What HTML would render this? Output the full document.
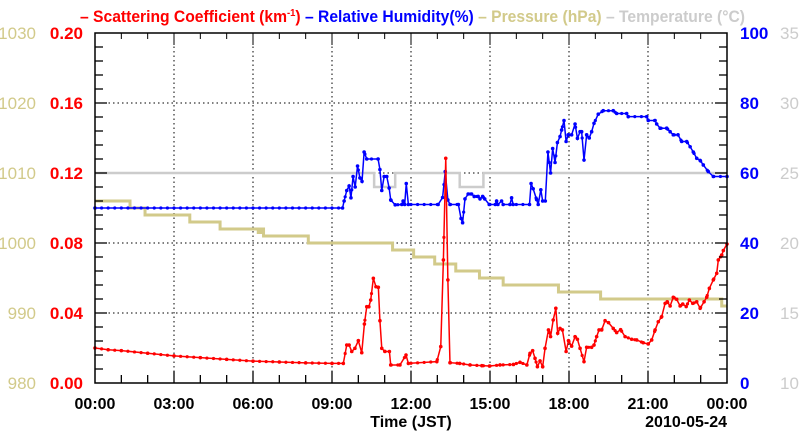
<!DOCTYPE html>
<html><head><meta charset="utf-8"><style>
html,body{margin:0;padding:0;background:#fff;}
svg{display:block;font-family:"Liberation Sans",sans-serif;}
</style></head><body>
<svg id="c" width="800" height="434" xmlns="http://www.w3.org/2000/svg">
<text x="80" y="22" font-size="16.5" font-weight="bold" textLength="665" lengthAdjust="spacingAndGlyphs"><tspan fill="#ff0000">– Scattering Coefficient (km</tspan><tspan fill="#ff0000" font-size="10" dy="-6">-1</tspan><tspan fill="#ff0000" dy="6">) </tspan><tspan fill="#0000ff">– Relative Humidity(%) </tspan><tspan fill="#d2ca8a">– Pressure (hPa) </tspan><tspan fill="#cccccc">– Temperature (°C)</tspan></text>
<g id="grid"></g><g id="series"></g><g id="axes"></g>
<text x="411" y="427" font-size="16" font-weight="bold" text-anchor="middle">Time (JST)</text>
<text x="727" y="427" font-size="16" font-weight="bold" text-anchor="end">2010-05-24</text>
</svg>
<script>
const hourTicks=["00:00","03:00","06:00","09:00","12:00","15:00","18:00","21:00","00:00"];
const scatTicks=["0.00","0.04","0.08","0.12","0.16","0.20"];
const presTicks=["980","990","1000","1010","1020","1030"];
const rhTicks=["0","20","40","60","80","100"];
const tempTicks=["10","15","20","25","30","35"];

const scatT=[0,0.5,1,2,3,4,5,6,7,8,9,9.43,9.56,9.65,9.75,9.87,10.0,10.13,10.23,10.32,10.4,10.47,10.57,10.67,10.76,10.82,10.89,11.01,11.18,11.23,11.58,11.81,11.9,12.98,13.13,13.23,13.32,13.4,13.48,13.85,14.24,14.69,14.98,15.38,15.89,16.14,16.4,16.52,16.62,16.71,16.8,16.9,17.0,17.09,17.22,17.3,17.4,17.5,17.57,17.66,17.75,17.89,17.98,18.1,18.23,18.32,18.42,18.57,18.67,18.86,18.95,19.05,19.14,19.24,19.37,19.5,19.68,19.81,19.96,20.13,20.38,20.57,20.82,21.01,21.14,21.27,21.39,21.52,21.65,21.73,21.84,21.96,22.09,22.22,22.32,22.45,22.57,22.7,22.85,22.98,23.13,23.23,23.33,23.48,23.61,23.67,23.8,23.86,24];
const scatV=[0.020,0.019,0.0185,0.017,0.0155,0.0145,0.0135,0.0125,0.012,0.0115,0.0112,0.0112,0.0217,0.0217,0.018,0.0198,0.0242,0.0173,0.0337,0.0436,0.0436,0.0474,0.0598,0.055,0.0547,0.0356,0.0198,0.018,0.018,0.0103,0.0103,0.016,0.0112,0.0122,0.0208,0.0703,0.1284,0.0589,0.0116,0.0112,0.0103,0.0099,0.0097,0.0103,0.0106,0.0118,0.0103,0.017,0.0185,0.0141,0.0093,0.0126,0.0093,0.0198,0.0303,0.0265,0.036,0.0427,0.0284,0.0312,0.0303,0.018,0.0242,0.0211,0.0265,0.025,0.0198,0.0122,0.0204,0.0204,0.0217,0.0265,0.0303,0.0303,0.0356,0.0345,0.0312,0.0288,0.0305,0.0265,0.025,0.0246,0.023,0.0223,0.0246,0.0303,0.035,0.0379,0.0455,0.0464,0.044,0.049,0.0478,0.044,0.0451,0.0437,0.0474,0.0455,0.0464,0.0427,0.0464,0.049,0.0541,0.0589,0.0627,0.0703,0.0731,0.0757,0.0794];

const rhT=[0,9.4,9.46,9.56,9.65,9.72,9.8,9.88,9.97,10.06,10.14,10.22,10.32,10.75,10.82,10.89,10.98,11.08,11.17,11.23,11.4,11.65,11.7,11.76,11.82,11.9,13.03,13.2,13.3,13.4,13.48,13.8,13.9,13.96,14.05,14.17,14.3,14.4,14.55,14.62,14.72,14.8,14.97,15.2,15.25,15.3,15.44,15.5,15.76,15.82,15.88,16.5,16.56,16.64,16.77,16.83,16.93,17.0,17.1,17.2,17.3,17.38,17.47,17.56,17.66,17.72,17.81,17.89,17.97,18.1,18.23,18.32,18.42,18.48,18.57,18.67,18.77,18.86,18.95,19.11,19.3,19.68,19.81,20.19,20.25,20.95,21.01,21.27,21.33,21.46,21.71,21.84,21.96,22.14,22.28,22.47,22.6,22.72,22.85,22.98,23.1,23.29,23.48,24];
const rhV=[50,50,52,55,56.3,52.9,59,56,62,58.6,57.6,66,64,64,61,55,59,59,55.7,52.3,50.9,51,52,51,57,51,51,53,60.4,52.3,51,51,47,45.8,52.6,54,54,53.3,53.3,52.6,53.3,52.6,51,51,52,51,52,51,51,52.9,51,51,57,55.5,52.4,51,55.2,52,52,66,60,67,63,68.7,70.4,72.3,75,69,70.9,70.9,74,69.9,71.8,71.8,63.7,70.9,70,71.8,74.2,76.8,77.8,77.8,77,77,76.1,76.1,75,75,74,72.8,72.8,71.8,70.9,70.9,69,69,67.5,66,64.2,63.6,62.3,60.4,59,59];

const presT=[0,1.33,1.9,3.6,4.75,6.2,6.3,6.4,8.1,11.3,12.1,12.9,13.7,14.6,15.5,17.6,19.2,23.8,24];
const presV=[1006,1005,1004,1003,1002,1001.5,1002,1001,1000,999,998,997,996,995,994,993,992,991,991];

const tempT=[0,10.45,10.6,11.3,11.4,13.75,13.85,14.65,14.75,24];
const tempV=[25,25,24,24,25,25,24,24,25,25];

const L=95,R=727,T=33,B=383;
const xs=h=>L+(R-L)*h/24;
const yS=v=>B-(B-T)*v/0.20;
const yP=v=>B-(B-T)*(v-980)/50;
const yH=v=>B-(B-T)*v/100;
const yT=v=>B-(B-T)*(v-10)/25;
const NS="http://www.w3.org/2000/svg";
function mk(tag,attrs,parent){const e=document.createElementNS(NS,tag);for(const k in attrs)e.setAttribute(k,attrs[k]);parent.appendChild(e);return e;}
const grid=document.getElementById('grid'),axes=document.getElementById('axes'),ser=document.getElementById('series');

hourTicks.forEach((lab,i)=>{const x=xs(i*3);
 if(i>0&&i<8){const g=mk('line',{x1:x,x2:x,y1:T,y2:B,stroke:'#000','stroke-width':1,'stroke-dasharray':'1.5,3'},grid);
 
 }
 const t=mk('text',{x:x,y:409,'font-size':16,'font-weight':'bold','text-anchor':'middle'},axes);t.textContent=lab;
 
 });
for(let h=1;h<24;h++){const x=xs(h);const tk=mk('line',{x1:x,x2:x,y1:B,y2:B-(h%3==0?12:8),stroke:'#000','stroke-width':1.3},axes);
 
 
 const tk2=mk('line',{x1:x,x2:x,y1:T,y2:T+(h%3==0?12:6),stroke:'#000','stroke-width':1},axes);
 
 }
scatTicks.forEach((lab,i)=>{const y=yS(+lab);
 if(i>0&&i<5){const g=mk('line',{x1:L,x2:R,y1:y,y2:y,stroke:'#000','stroke-width':1,'stroke-dasharray':'1.5,3'},grid);
 
 }
 const t=mk('text',{x:83,y:y+6,'font-size':17,'font-weight':'bold','text-anchor':'end',fill:'#ff0000'},axes);t.textContent=lab;
 
 
 const p=mk('text',{x:36,y:y+6,'font-size':17,'text-anchor':'end',fill:'#d2ca8a'},axes);p.textContent=presTicks[i];
 
 
 const r=mk('text',{x:740,y:y+6,'font-size':17,'font-weight':'bold',fill:'#0000ff'},axes);r.textContent=rhTicks[i];
 
 
 const tt=mk('text',{x:780,y:y+6,'font-size':17,fill:'#cccccc'},axes);tt.textContent=tempTicks[i];
 
 });
for(let k=1;k<25;k++){const y=B-(B-T)*k/25;const big=k%5==0;
 const a=mk('line',{x1:L,x2:L+(big?12:8),y1:y,y2:y,stroke:'#000','stroke-width':1.3},axes);
 
 
 const b=mk('line',{x1:R,x2:R-(big?12:8),y1:y,y2:y,stroke:'#000','stroke-width':1.3},axes);
 
 }
const fr=mk('rect',{x:L,y:T,width:R-L,height:B-T,fill:'none',stroke:'#000','stroke-width':1.5},axes);



function stepPath(T_,V_,fy){let d='M'+xs(T_[0])+','+fy(V_[0]);for(let i=1;i<T_.length;i++){d+='H'+xs(T_[i])+'V'+fy(V_[i]);}return d;}
const tp=mk('path',{d:stepPath(tempT,tempV,yT),fill:'none',stroke:'#cccccc','stroke-width':2.5},ser);


const pp=mk('path',{d:stepPath(presT,presV,yP),fill:'none',stroke:'#d2ca8a','stroke-width':3},ser);


function line(T_,V_,fy,col,name){const pts=T_.map((t,i)=>xs(t)+','+fy(V_[i])).join(' ');
 const pl=mk('polyline',{points:pts,fill:'none',stroke:col,'stroke-width':1.5},ser);
 
 
 T_.forEach((t,i)=>{const c=mk('circle',{cx:xs(t),cy:fy(V_[i]),r:1.8,fill:col},ser);
 
 });
 for(let h=0;h<24;h+=0.25){let j=T_.findIndex(x=>x>h);if(j<1)continue;const f=(h-T_[j-1])/(T_[j]-T_[j-1]);const v=V_[j-1]+(V_[j]-V_[j-1])*f;
 const c=mk('circle',{cx:xs(h),cy:fy(v),r:1.6,fill:col},ser);
 
 }}
line(rhT,rhV,yH,'#0000ff','humidity');
line(scatT,scatV,yS,'#ff0000','scattering');
</script>
</body></html>
